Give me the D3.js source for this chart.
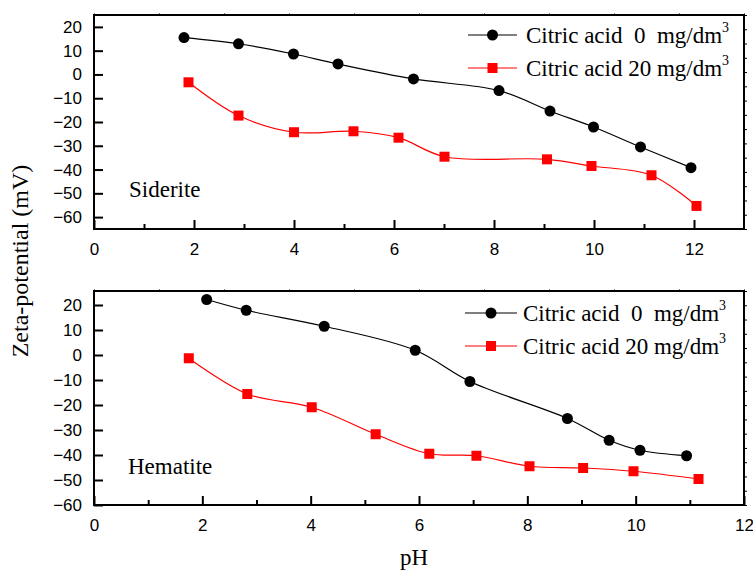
<!DOCTYPE html>
<html>
<head>
<meta charset="utf-8">
<script src="https://cdn.jsdelivr.net/npm/d3@7"></script>
<style>
  body { margin: 0; background: #fff; }
  svg { display: block; }
  .serif { font-family: "Liberation Serif", "Times New Roman", serif; }
  .tick text { font-family: "Liberation Sans", Arial, sans-serif; font-size: 17px; fill: #000; }
</style>
</head>
<body>
<div id="chart"></div>
<script>
// Siderite panel: [pH, zeta potential mV]
const siderite0 = [[1.8, 15.5], [2.89, 12.9], [3.99, 8.6], [4.88, 4.4], [6.39, -1.9],
  [8.1, -6.8], [9.12, -15.4], [9.99, -22.1], [10.93, -30.5], [11.94, -39.2]];
const siderite20 = [[1.89, -3.3], [2.89, -17.3], [4.0, -24.3], [5.19, -23.9], [6.09, -26.6],
  [7.01, -34.6], [9.06, -35.7], [9.95, -38.5], [11.15, -42.4], [12.05, -55.3]];

// Hematite panel
const hematite0 = [[2.08, 22.2], [2.81, 17.9], [4.25, 11.5], [5.93, 1.9], [6.94, -10.6],
  [8.74, -25.4], [9.51, -34.1], [10.08, -38.1], [10.94, -40.3]];
const hematite20 = [[1.75, -1.3], [2.83, -15.6], [4.02, -20.9], [5.2, -31.7], [6.19, -39.5],
  [7.06, -40.3], [8.04, -44.5], [9.03, -45.2], [9.96, -46.5], [11.16, -49.6]];

const seriesNames = ["Citric acid  0  mg/dm", "Citric acid 20 mg/dm"];
const yTicks = [-60, -50, -40, -30, -20, -10, 0, 10, 20];

const W = 753, H = 570;
const svg = d3.select("#chart").append("svg")
    .attr("width", W)
    .attr("height", H);

const panels = [
  { name: "Siderite", s0: siderite0, s20: siderite20,
    xDomain: [0, 13], yDomain: [-65, 25], xTicks: [0, 2, 4, 6, 8, 10, 12],
    left: 94, right: 744, top: 15, bottom: 229,
    labelPos: [129, 197], legendY: 35, legendX: 468 },
  { name: "Hematite", s0: hematite0, s20: hematite20,
    xDomain: [0, 12], yDomain: [-60, 25.6], xTicks: [0, 2, 4, 6, 8, 10, 12],
    left: 94, right: 744, top: 291, bottom: 505,
    labelPos: [128, 474], legendY: 313, legendX: 465 }
];

panels.forEach(p => {
  const x = d3.scaleLinear().domain(p.xDomain).range([p.left, p.right]);
  const y = d3.scaleLinear().domain(p.yDomain).range([p.bottom, p.top]);
  const g = svg.append("g");

  // faint ticks on top / right border
  const top = d3.axisTop(d3.scaleLinear().domain([0, 10]).range([p.left, p.right]))
    .ticks(10).tickSize(2).tickFormat("");
  g.append("g").attr("transform", `translate(0,${p.top})`).call(top)
    .call(a => a.select(".domain").remove())
    .selectAll("line").attr("stroke", "#777");
  const right = d3.axisRight(d3.scaleLinear().domain([0, 15]).range([p.bottom, p.top]))
    .ticks(15).tickSize(3).tickFormat("");
  g.append("g").attr("transform", `translate(${p.right},0)`).call(right)
    .call(a => a.select(".domain").remove())
    .selectAll("line").attr("stroke", "#000").attr("stroke-width", 1);

  // frame
  g.append("rect")
    .attr("x", p.left).attr("y", p.top)
    .attr("width", p.right - p.left).attr("height", p.bottom - p.top)
    .attr("fill", "none").attr("stroke", "#000").attr("stroke-width", 2);

  // x axis: major ticks inward, minor at odd values
  const xMinor = d3.range(p.xDomain[0] + 1, p.xDomain[1], 2);
  g.append("g").attr("transform", `translate(0,${p.bottom})`)
    .call(d3.axisBottom(x).tickValues(xMinor).tickSize(-5).tickFormat(""))
    .call(a => a.select(".domain").remove())
    .selectAll("line").attr("stroke-width", 2);
  const xa = g.append("g").attr("transform", `translate(0,${p.bottom})`)
    .call(d3.axisBottom(x).tickValues(p.xTicks).tickSize(-9).tickPadding(14));
  xa.select(".domain").remove();
  xa.selectAll("line").attr("stroke-width", 2);
  xa.selectAll("text").attr("dy", "0.71em");

  // y axis
  const ya = g.append("g").attr("transform", `translate(${p.left},0)`)
    .call(d3.axisLeft(y).tickValues(yTicks).tickSize(-9).tickPadding(12));
  ya.select(".domain").remove();
  ya.selectAll("line").attr("stroke-width", 2);

  // lines and markers
  const line = d3.line()
    .x(d => x(d[0])).y(d => y(d[1]))
    .curve(d3.curveCatmullRom.alpha(0.5));

  g.append("path").datum(p.s0).attr("d", line)
    .attr("fill", "none").attr("stroke", "#000").attr("stroke-width", 1.2);
  g.append("path").datum(p.s20).attr("d", line)
    .attr("fill", "none").attr("stroke", "#ff0000").attr("stroke-width", 1.2);

  g.selectAll(".c0").data(p.s0).enter().append("circle")
    .attr("cx", d => x(d[0])).attr("cy", d => y(d[1]))
    .attr("r", 5.5).attr("fill", "#000");
  g.selectAll(".s20").data(p.s20).enter().append("rect")
    .attr("x", d => x(d[0]) - 5).attr("y", d => y(d[1]) - 5)
    .attr("width", 10).attr("height", 10).attr("fill", "#ff0000");

  // mineral label
  g.append("text").attr("class", "serif")
    .attr("x", p.labelPos[0]).attr("y", p.labelPos[1])
    .attr("font-size", 23).text(p.name);

  // legend
  const colors = ["#000", "#ff0000"];
  seriesNames.forEach((name, i) => {
    const ly = p.legendY + i * 33;
    const lg = g.append("g");
    lg.append("line")
      .attr("x1", p.legendX).attr("x2", 517).attr("y1", ly).attr("y2", ly)
      .attr("stroke", colors[i]).attr("stroke-width", 1.2);
    if (i === 0) {
      lg.append("circle").attr("cx", (p.legendX + 517) / 2).attr("cy", ly)
        .attr("r", 5.5).attr("fill", colors[i]);
    } else {
      lg.append("rect").attr("x", (p.legendX + 517) / 2 - 5).attr("y", ly - 5)
        .attr("width", 10).attr("height", 10).attr("fill", colors[i]);
    }
    const t = lg.append("text").attr("class", "serif")
      .attr("x", p.legendX + 58).attr("y", ly + 8)
      .attr("font-size", 23)
      .style("white-space", "pre");
    t.append("tspan").text(name);
    t.append("tspan").attr("font-size", 14).attr("dy", -11).text("3");
  });
});

// axis titles
svg.append("text").attr("class", "serif")
  .attr("transform", "translate(28,261) rotate(-90)")
  .attr("text-anchor", "middle")
  .attr("font-size", 24)
  .text("Zeta-potential (mV)");

svg.append("text").attr("class", "serif")
  .attr("x", 414).attr("y", 565)
  .attr("text-anchor", "middle")
  .attr("font-size", 23)
  .text("pH");
</script>
</body>
</html>
